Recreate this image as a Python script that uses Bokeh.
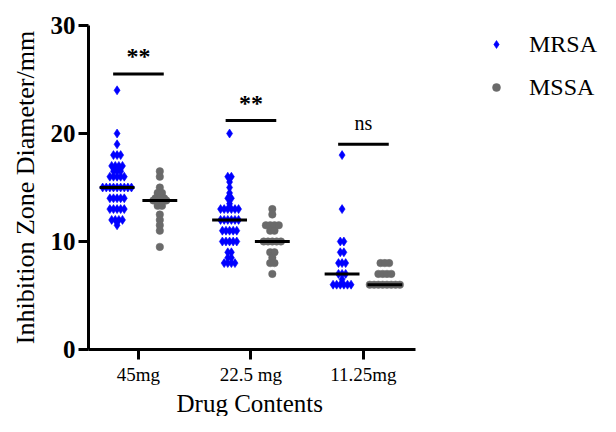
import numpy as np
from bokeh.plotting import figure
from bokeh.models import (Range1d, FixedTicker, Legend, LegendItem,
                          ColumnDataSource, Title)
from bokeh.core.properties import value
from bokeh.embed import file_html
from bokeh.resources import INLINE

# ---------------- data ----------------
categories = ["45mg", "22.5 mg", "11.25mg"]
series_names = ["MRSA", "MSSA"]

mrsa_45 = [24, 20, 19, 18, 18, 18, 17, 17, 17, 17, 16.5, 16.5, 16.5,
           16, 16, 16, 16, 16, 15, 15, 15, 15, 15, 15, 15, 15, 15,
           14, 14, 14, 14, 14, 13, 13, 13, 13, 13, 12, 12, 12, 12, 11.5]
mssa_45 = [16.5, 16, 15, 14.5, 14.5, 14, 14, 14, 13.8, 13.8, 13.8, 13.8,
           13.3, 13.3, 12.5, 12, 11.5, 11, 9.5]
mrsa_22 = [20, 16, 16, 15.5, 15, 14.5, 14, 14, 13.5, 13, 13, 13, 13, 13, 13,
           12, 12, 12, 12, 12, 12, 11, 11, 11, 11, 11, 10, 10, 10, 10, 10,
           9, 9, 8.5, 8.5, 8, 8, 8, 8]
mssa_22 = [13, 12.5, 11.5, 11.5, 11.5, 11.5, 11, 11, 10, 10, 10, 10, 10,
           9, 9, 8.5, 8, 8, 7]
mrsa_11 = [18, 13, 10, 10, 9, 9, 8, 8, 8, 7, 7, 7, 6.5, 6, 6, 6, 6, 6, 6]
mssa_11 = [8, 8, 8, 7, 7, 7, 7, 6, 6, 6, 6, 6, 6, 6, 6]

mrsa_groups = [mrsa_45, mrsa_22, mrsa_11]
mssa_groups = [mssa_45, mssa_22, mssa_11]

sig_y = [25.5, 21.2, 19.0]
sig_text = ["**", "**", "ns"]

y_ticks = [0, 10, 20, 30]

# ---------------- styling / layout ----------------
BLUE = "#0000ff"
GREY = "#6a6a6a"
SERIF = "Liberation Serif"
group_off = 0.19
px_per_unit = 112.5
x_lo, x_axis_hi = 0.556, 3.46
frame_w = 600 - 88
x_hi = x_lo + frame_w / px_per_unit


def swarm(vals, center, spacing_px):
    d = spacing_px / px_per_unit
    xs, ys = [], []
    uniq = sorted(set(vals), reverse=True)
    for v in uniq:
        n = vals.count(v)
        for i in range(n):
            xs.append(center + (i - (n - 1) / 2) * d)
            ys.append(v)
    return xs, ys


p = figure(width=600, height=416, output_backend="svg", toolbar_location=None,
           x_range=Range1d(x_lo, x_hi), y_range=Range1d(0, 30),
           min_border_left=88, min_border_right=0, min_border_top=25,
           min_border_bottom=66)
p.outline_line_color = None
p.xgrid.visible = False
p.ygrid.visible = False
p.background_fill_color = "white"
p.border_fill_color = "white"

renderers = []
for gi, (mr, ms) in enumerate(zip(mrsa_groups, mssa_groups)):
    c = gi + 1
    x1, y1 = swarm(mr, c - group_off, 3.6)
    r1 = p.scatter(x1, y1, marker="diamond", size=9, fill_color=BLUE,
                   line_color=BLUE, line_width=0.6)
    x2, y2 = swarm(ms, c + group_off, 4.3)
    r2 = p.scatter(x2, y2, marker="circle", size=7.5, fill_color=GREY,
                   line_color=GREY, line_width=0.5)
    if gi == 0:
        renderers = [r1, r2]
    # median lines
    for cx, vals in ((c - group_off, mr), (c + group_off, ms)):
        m = float(np.median(vals))
        p.segment(x0=[cx - 0.155], y0=[m], x1=[cx + 0.155], y1=[m],
                  line_color="black", line_width=3)

# significance bars and labels
cx = [1, 2, 3]
p.segment(x0=[c - 0.225 for c in cx], y0=sig_y, x1=[c + 0.225 for c in cx],
          y1=sig_y, line_color="black", line_width=3)
src_star = ColumnDataSource(dict(x=cx[:2], y=sig_y[:2], t=sig_text[:2]))
p.text(x="x", y="y", text="t", source=src_star, text_align="center",
       text_baseline="bottom", y_offset=-5, text_font=value(SERIF),
       text_font_style="bold", text_font_size="24px", text_color="black")
src_ns = ColumnDataSource(dict(x=cx[2:], y=sig_y[2:], t=sig_text[2:]))
p.text(x="x", y="y", text="t", source=src_ns, text_align="center",
       text_baseline="bottom", y_offset=-10, text_font=value(SERIF),
       text_font_size="20px", text_color="black")

# axes
p.xaxis.ticker = FixedTicker(ticks=[1, 2, 3])
p.xaxis.major_label_overrides = {i + 1: c for i, c in enumerate(categories)}
p.xaxis.bounds = (x_lo, x_axis_hi)
p.yaxis.ticker = FixedTicker(ticks=y_ticks)
for ax in (p.xaxis, p.yaxis):
    ax.axis_line_width = 3
    ax.axis_line_color = "black"
    ax.major_tick_line_width = 3
    ax.major_tick_line_color = "black"
    ax.major_tick_out = 10
    ax.major_tick_in = 0
    ax.minor_tick_line_color = None
    ax.major_label_text_font = SERIF
    ax.major_label_text_color = "black"
    ax.axis_label_text_font = SERIF
    ax.axis_label_text_font_style = "normal"
    ax.axis_label_text_color = "black"

p.xaxis.major_label_text_font_size = "19px"
p.xaxis.major_label_standoff = 4

p.yaxis.major_label_text_font_size = "25px"
p.yaxis.major_label_text_font_style = "bold"
p.yaxis.major_label_standoff = 3
p.yaxis.axis_label = "Inhibition Zone Diameter/mm"
p.yaxis.axis_label_standoff = 8
p.yaxis.axis_label_text_font_size = "26px"

# x-axis title, centred under the middle category
xtitle = Title(text="Drug Contents", align="left", offset=88, standoff=0,
               text_font=SERIF, text_font_size="25px",
               text_font_style="normal", text_color="black")
p.add_layout(xtitle, "below")

legend = Legend(items=[LegendItem(label=series_names[0], renderers=[renderers[0]]),
                       LegendItem(label=series_names[1], renderers=[renderers[1]])],
                location=(398, 247), orientation="vertical")
legend.label_text_font = SERIF
legend.label_text_font_size = "24px"
legend.label_text_color = "black"
legend.border_line_color = None
legend.background_fill_alpha = 0
legend.glyph_height = 30
legend.glyph_width = 20
legend.label_height = 30
legend.spacing = 13
legend.padding = 0
legend.margin = 0
legend.label_standoff = 23
p.add_layout(legend)

open("out.html", "w").write(file_html(p, INLINE))
